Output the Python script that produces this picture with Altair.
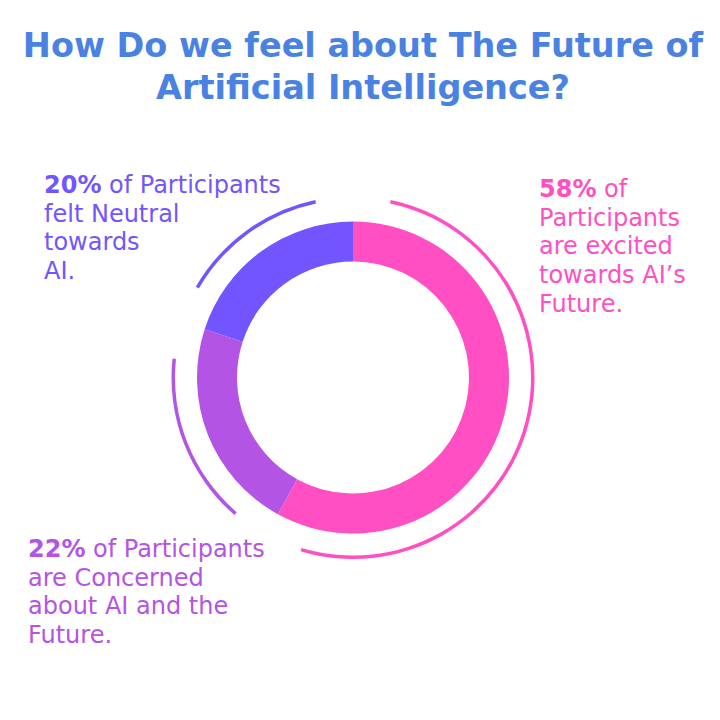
import altair as alt
import pandas as pd
import math

# ---- data ----
categories = ["Excited", "Concerned", "Neutral"]
shares = [58, 22, 20]
colors = ["#FF4FC2", "#B354E4", "#7255FF"]
pct_labels = ["58%", "22%", "20%"]
first_rest = ["of", "of Participants", "of Participants"]
more_lines = [
    "Participants\nare excited\ntowards AI’s\nFuture.",
    "are Concerned\nabout AI and the\nFuture.",
    "felt Neutral\ntowards\nAI.",
]
title_text = "How Do we feel about The Future of\nArtificial Intelligence?"

# ---- derived table ----
total = sum(shares)
cum = []
acc = 0
for s in shares:
    cum.append(acc)
    acc += s
pad = 12 / 360 * total  # gap of the outer decorative arcs, in share units
df = pd.DataFrame({
    "category": categories,
    "share": shares,
    "order": list(range(len(categories))),
    "pct": pct_labels,
    "rest": first_rest,
    "more": more_lines,
    "arc_start": [c + pad for c in cum],
    "arc_end": [c + s - pad for c, s in zip(cum, shares)],
})

CX, CY = 345, 369.5
color = alt.Color("category:N", scale=alt.Scale(domain=categories, range=colors), legend=None)
FONT = "DejaVu Sans"
FS = 24
LH = 28.7

base = alt.Chart(df)

donut = base.mark_arc(innerRadius=116, outerRadius=156).encode(
    theta=alt.Theta("share:Q", stack=True),
    order=alt.Order("order:Q"),
    color=color,
    x=alt.value(CX), y=alt.value(CY),
)

outer = base.mark_arc(innerRadius=178, outerRadius=181.5).encode(
    theta=alt.Theta("arc_start:Q", scale=alt.Scale(domain=[0, total], range=[0, 2 * math.pi])),
    theta2="arc_end:Q",
    color=color,
    x=alt.value(CX), y=alt.value(CY),
)

title = alt.Chart(pd.DataFrame({"t": [title_text]})).mark_text(
    font=FONT, fontSize=33.5, fontWeight="bold", color="#4A82E3",
    align="center", baseline="alphabetic", lineBreak="\n", lineHeight=42,
).encode(text="t:N", x=alt.value(355), y=alt.value(49))

label_pos = {"Excited": (531, 189), "Concerned": (20, 549), "Neutral": (36, 185)}
OFF = 65

layers = [donut, outer, title]
for cat, (x0, y0) in label_pos.items():
    b = base.transform_filter(alt.datum.category == cat)
    layers.append(b.mark_text(font=FONT, fontSize=FS, fontWeight="bold", align="left",
                              baseline="alphabetic").encode(
        text="pct:N", color=color, x=alt.value(x0), y=alt.value(y0)))
    layers.append(b.mark_text(font=FONT, fontSize=FS, align="left",
                              baseline="alphabetic").encode(
        text="rest:N", color=color, x=alt.value(x0 + OFF), y=alt.value(y0)))
    layers.append(b.mark_text(font=FONT, fontSize=FS, align="left", baseline="alphabetic",
                              lineBreak="\n", lineHeight=LH).encode(
        text="more:N", color=color, x=alt.value(x0), y=alt.value(y0 + LH)))

chart = alt.layer(*layers).properties(
    width=704, height=704,
    autosize=alt.AutoSizeParams(type="none"),
    padding=0,
).configure_view(stroke=None)

chart.save("out.html", embed_options={"renderer": "svg", "actions": False})
